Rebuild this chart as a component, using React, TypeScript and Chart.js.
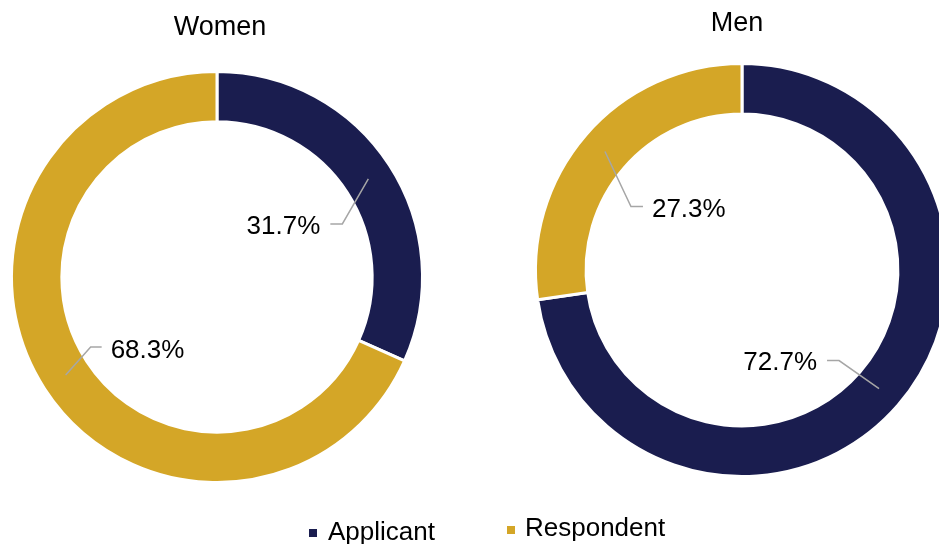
import React, { useEffect, useRef } from 'react';
import { Chart, registerables } from 'chart.js';

Chart.register(...registerables);

const categories = ['Applicant', 'Respondent'];
const womenValues = [31.7, 68.3];
const menValues = [72.7, 27.3];
const chartTitles = ['Women', 'Men'];
const sliceColors = ['#1a1d4f', '#d4a627'];

const FONT = '"Liberation Sans", Arial, sans-serif';

const overlayPlugin = {
  id: 'overlay',
  afterDraw(chart: any, _args: any, opts: any) {
    const ctx = chart.ctx as CanvasRenderingContext2D;
    const meta = chart.getDatasetMeta(0);
    const data = chart.data.datasets[0].data as number[];
    ctx.save();
    // title
    ctx.font = `27px ${FONT}`;
    ctx.fillStyle = '#000';
    ctx.textAlign = 'center';
    ctx.textBaseline = 'alphabetic';
    ctx.fillText(opts.title, opts.titleX, opts.titleY);

    // data labels with leader lines
    meta.data.forEach((arc: any, i: number) => {
      const p = arc.getProps(['x', 'y', 'startAngle', 'endAngle', 'innerRadius', 'outerRadius'], true);
      const mid = (p.startAngle + p.endAngle) / 2;
      const r = (p.innerRadius + p.outerRadius) / 2;
      const sx = p.x + Math.cos(mid) * r;
      const sy = p.y + Math.sin(mid) * r;
      const L = opts.labels[i];
      const ex = sx + L.dx;
      const ey = sy + L.dy;
      const hx = ex + L.hx;
      ctx.strokeStyle = '#a6a6a6';
      ctx.lineWidth = 1.5;
      ctx.beginPath();
      ctx.moveTo(sx, sy);
      ctx.lineTo(ex, ey);
      ctx.lineTo(hx, ey);
      ctx.stroke();
      ctx.font = `26px ${FONT}`;
      ctx.fillStyle = '#000';
      ctx.textBaseline = 'middle';
      const left = L.hx > 0;
      ctx.textAlign = left ? 'left' : 'right';
      ctx.fillText(data[i].toFixed(1) + '%', hx + (left ? 9 : -10), ey + L.ty);
    });

    // legend
    if (opts.legend) {
      opts.legend.forEach((item: any, i: number) => {
        ctx.fillStyle = sliceColors[i];
        ctx.fillRect(item.bx, item.by, 8, 8);
        ctx.fillStyle = '#000';
        ctx.font = `26px ${FONT}`;
        ctx.textAlign = 'left';
        ctx.textBaseline = 'alphabetic';
        ctx.fillText(categories[i], item.tx, item.ty);
      });
    }
    ctx.restore();
  },
};

function makeChart(canvas: HTMLCanvasElement, values: number[], padding: any, overlay: any) {
  return new Chart(canvas, {
    type: 'doughnut',
    data: {
      labels: categories,
      datasets: [
        {
          data: values,
          backgroundColor: sliceColors,
          borderColor: '#ffffff',
          borderWidth: 3,
          hoverOffset: 0,
        },
      ],
    },
    options: {
      responsive: false,
      maintainAspectRatio: false,
      animation: false,
      cutout: '75.5%',
      layout: { padding },
      plugins: {
        legend: { display: false },
        title: { display: false },
        tooltip: { enabled: false },
        overlay,
      } as any,
    },
    plugins: [overlayPlugin],
  });
}

export default function App() {
  const womenRef = useRef<HTMLCanvasElement>(null);
  const menRef = useRef<HTMLCanvasElement>(null);

  useEffect(() => {
    const w = makeChart(
      womenRef.current!,
      womenValues,
      { left: 10, top: 70, right: 515, bottom: 60 },
      {
        title: chartTitles[0],
        titleX: 220,
        titleY: 35,
        labels: [
          { dx: -26, dy: 45, hx: -12, ty: 3 },
          { dx: 25, dy: -28, hx: 11, ty: 4 },
        ],
        legend: [
          { bx: 309, by: 529, tx: 328, ty: 540 },
          { bx: 507, by: 526, tx: 525, ty: 536 },
        ],
      }
    );
    const m = makeChart(
      menRef.current!,
      menValues,
      { left: 534, top: 62, right: 50, bottom: 66 },
      {
        title: chartTitles[1],
        titleX: 737,
        titleY: 31,
        labels: [
          { dx: -40, dy: -28, hx: -12, ty: 2 },
          { dx: 26, dy: 55, hx: 12, ty: 3 },
        ],
      }
    );
    return () => {
      w.destroy();
      m.destroy();
    };
  }, []);

  return (
    <div
      style={{
        position: 'fixed',
        left: 0,
        top: 0,
        width: 939,
        height: 544,
        overflow: 'hidden',
        background: '#ffffff',
      }}
    >
      <canvas ref={womenRef} width={939} height={544} style={{ position: 'absolute', left: 0, top: 0, display: 'block' }} />
      <canvas ref={menRef} width={1000} height={544} style={{ position: 'absolute', left: 0, top: 0, display: 'block' }} />
    </div>
  );
}
